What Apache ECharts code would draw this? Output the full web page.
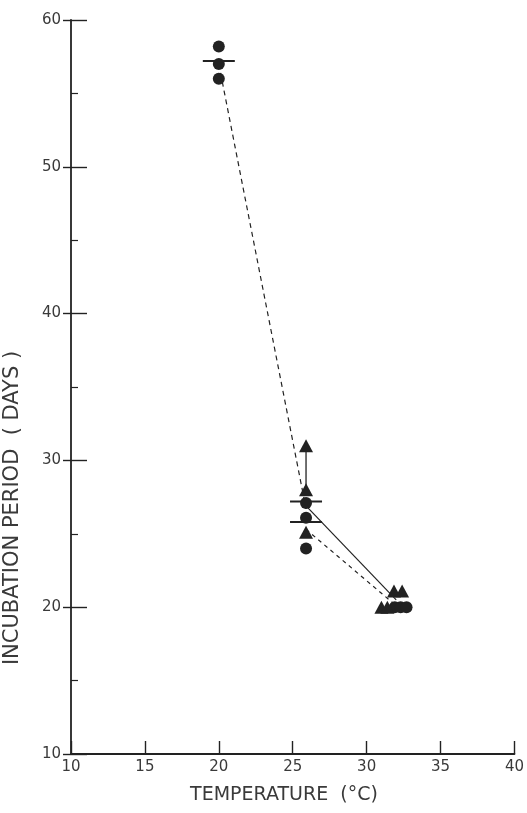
<!DOCTYPE html>
<html><head><meta charset="utf-8">
<script src="https://cdn.jsdelivr.net/npm/echarts@6/dist/echarts.min.js"></script>
<style>html,body{margin:0;padding:0;background:#fff}#c{width:527px;height:813px}</style>
</head><body><div id="c"></div>
<script>
// Temperature (°C), incubation period (days)
const xTicks = [10, 15, 20, 25, 30, 35, 40];
const yTicks = [10, 20, 30, 40, 50, 60];
const circles = [[20, 58.2], [20, 57], [20, 56], [25.9, 27.1], [25.9, 26.1], [25.9, 24], [31.9, 20], [32.3, 20], [32.7, 20]];
const triangles = [[25.9, 31], [25.9, 28], [25.9, 25.1], [31.85, 21.1], [32.4, 21.1], [31.0, 20], [31.4, 20]];
const meanBars = [[20, 57.2], [25.9, 27.2], [25.9, 25.8]];
const dashedUpper = [[20, 57], [25.9, 26.7]];
const dashedLower = [[25.9, 25.3], [32, 20.1]];
const solidLine = [[25.9, 26.9], [32, 20.5]];
const rangeLine = [[25.9, 31], [25.9, 28]];
const xTitle = 'TEMPERATURE  (°C)';
const yTitle = 'INCUBATION PERIOD  ( DAYS )';

const ink = '#222';
const textInk = '#3a3a3a';
const font = 'DejaVu Sans';
const chart = echarts.init(document.getElementById('c'));
chart.setOption({
  animation: false,
  backgroundColor: '#fff',
  grid: { left: 71, right: 11, top: 20, bottom: 59 },
  xAxis: {
    type: 'value', min: xTicks[0], max: xTicks[xTicks.length - 1], interval: 5,
    axisLine: { lineStyle: { color: ink, width: 1.8 } },
    axisTick: { inside: true, length: 13, lineStyle: { color: ink, width: 1.4 } },
    axisLabel: { color: textInk, fontSize: 15, fontFamily: font, margin: 6 },
    splitLine: { show: false }
  },
  yAxis: [{
    type: 'value', min: yTicks[0], max: yTicks[yTicks.length - 1], interval: 10,
    axisLine: { lineStyle: { color: ink, width: 1.8 } },
    axisTick: { inside: true, length: 16, lineStyle: { color: ink, width: 1.4 } },
    minorTick: { show: true, splitNumber: 2, length: 7, lineStyle: { color: ink, width: 1.2 } },
    axisLabel: { color: textInk, fontSize: 15, fontFamily: font, margin: 10 },
    splitLine: { show: false }
  }, {
    type: 'value', position: 'left', min: yTicks[0], max: yTicks[yTicks.length - 1], interval: 10,
    axisLine: { show: false },
    axisTick: { inside: false, length: 8, lineStyle: { color: ink, width: 1.4 } },
    axisLabel: { show: false },
    splitLine: { show: false }
  }],
  graphic: [{
    type: 'text', x: 13, y: 508, rotation: Math.PI / 2,
    style: { text: yTitle, fill: textInk, font: '21px "DejaVu Sans"', align: 'center', verticalAlign: 'middle' }
  }, {
    type: 'text', x: 284, y: 795,
    style: { text: xTitle, fill: textInk, font: '19px "DejaVu Sans"', align: 'center', verticalAlign: 'middle' }
  }],
  series: [
    { type: 'line', data: dashedUpper, symbol: 'none', lineStyle: { color: ink, width: 1.2, type: [5, 4] }, z: 1 },
    { type: 'line', data: dashedLower, symbol: 'none', lineStyle: { color: ink, width: 1.2, type: [4, 4] }, z: 1 },
    { type: 'line', data: solidLine, symbol: 'none', lineStyle: { color: ink, width: 1.2 }, z: 1 },
    { type: 'line', data: rangeLine, symbol: 'none', lineStyle: { color: ink, width: 1.3 }, z: 1 },
    { type: 'scatter', data: meanBars, symbol: 'rect', symbolSize: [32, 2], itemStyle: { color: ink, opacity: 1 }, z: 2 },
    { type: 'scatter', data: circles, symbol: 'circle', symbolSize: 12, itemStyle: { color: ink, opacity: 1 }, z: 3 },
    { type: 'scatter', data: triangles, symbol: 'triangle', symbolSize: [14, 13], itemStyle: { color: ink, opacity: 1 }, z: 3 }
  ]
});
</script></body></html>
